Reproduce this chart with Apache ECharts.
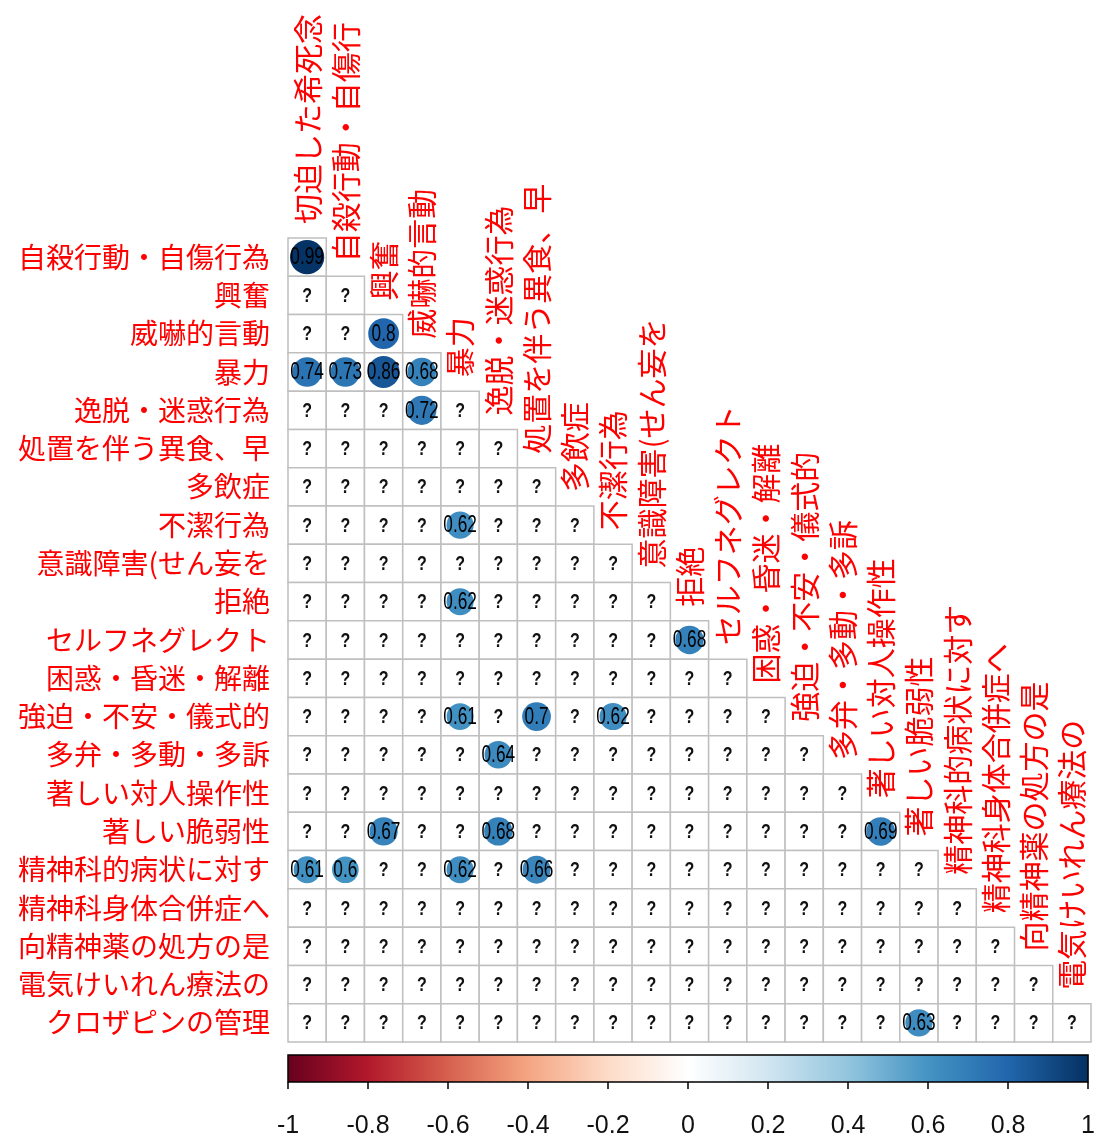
<!DOCTYPE html>
<html>
<head>
<meta charset="utf-8">
<script src="https://cdn.jsdelivr.net/npm/echarts@6/dist/echarts.min.js"></script>
<style>
  html, body { margin: 0; padding: 0; background: #fff; }
  #chart { width: 1098px; height: 1139px; }
</style>
</head>
<body>
<div id="chart"></div>
<script>
// Row variables (lower triangle rows, top to bottom)
const rowLabels = [
  '自殺行動・自傷行為', '興奮', '威嚇的言動', '暴力', '逸脱・迷惑行為',
  '処置を伴う異食、早', '多飲症', '不潔行為', '意識障害(せん妄を', '拒絶',
  'セルフネグレクト', '困惑・昏迷・解離', '強迫・不安・儀式的', '多弁・多動・多訴', '著しい対人操作性',
  '著しい脆弱性', '精神科的病状に対す', '精神科身体合併症へ', '向精神薬の処方の是', '電気けいれん療法の',
  'クロザピンの管理'
];

// Column variables (left to right)
const colLabels = [
  '切迫した希死念', '自殺行動・自傷行', '興奮', '威嚇的言動', '暴力',
  '逸脱・迷惑行為', '処置を伴う異食、早', '多飲症', '不潔行為', '意識障害(せん妄を',
  '拒絶', 'セルフネグレクト', '困惑・昏迷・解離', '強迫・不安・儀式的', '多弁・多動・多訴',
  '著しい対人操作性', '著しい脆弱性', '精神科的病状に対す', '精神科身体合併症へ', '向精神薬の処方の是',
  '電気けいれん療法の'
];

// Correlations that are shown: [row index, column index, r]; every other cell is NA ("?")
const corrCells = [
  [0, 0, 0.99],
  [2, 2, 0.8],
  [3, 0, 0.74], [3, 1, 0.73], [3, 2, 0.86], [3, 3, 0.68],
  [4, 3, 0.72],
  [7, 4, 0.62],
  [9, 4, 0.62],
  [10, 10, 0.68],
  [12, 4, 0.61], [12, 6, 0.7], [12, 8, 0.62],
  [13, 5, 0.64],
  [15, 2, 0.67], [15, 5, 0.68], [15, 15, 0.69],
  [16, 0, 0.61], [16, 1, 0.6], [16, 4, 0.62], [16, 6, 0.66],
  [20, 16, 0.63]
];

// Colour bar ticks
const barTicks = [-1, -0.8, -0.6, -0.4, -0.2, 0, 0.2, 0.4, 0.6, 0.8, 1];

// RdBu diverging palette stops, from -1 to 1
const rdbu = ['#67001F', '#B2182B', '#D6604D', '#F4A582', '#FDDBC7', '#FFFFFF',
              '#D1E5F0', '#92C5DE', '#4393C3', '#2166AC', '#053061'];

function hexToRgb(h) {
  return [parseInt(h.slice(1, 3), 16), parseInt(h.slice(3, 5), 16), parseInt(h.slice(5, 7), 16)];
}
function corrColor(v) {
  const t = (v + 1) / 2 * (rdbu.length - 1);
  const i = Math.min(Math.floor(t), rdbu.length - 2);
  const f = t - i;
  const a = hexToRgb(rdbu[i]), b = hexToRgb(rdbu[i + 1]);
  const c = a.map((x, k) => Math.round(x + (b[k] - x) * f));
  return 'rgb(' + c.join(',') + ')';
}

// Build the lower-triangle cell list (row i holds columns 0..i)
const lookup = {};
corrCells.forEach(([r, c, v]) => { lookup[r + '_' + c] = v; });
const cellData = [];
for (let r = 0; r < rowLabels.length; r++) {
  for (let c = 0; c <= r && c < colLabels.length; c++) {
    const v = lookup[r + '_' + c];
    cellData.push([c, r, v === undefined ? null : v]);
  }
}

const numFont = '"Liberation Sans", Arial, sans-serif';
const cjkFont = '"Noto Sans CJK JP", sans-serif';

const chart = echarts.init(document.getElementById('chart'), null, { renderer: 'canvas' });

chart.setOption({
  animation: false,
  backgroundColor: '#ffffff',
  grid: [
    { left: 288, top: 238, width: 803, height: 804 },
    { left: 288, top: 1055, width: 803, height: 31 }
  ],
  xAxis: [
    {
      gridIndex: 0, type: 'category', data: colLabels, position: 'top',
      axisLine: { show: false }, axisTick: { show: false }, axisLabel: { show: false },
      splitLine: { show: false }
    },
    {
      gridIndex: 1, type: 'value', min: -1, max: 1, interval: 0.2,
      axisLine: { show: false },
      axisTick: { show: true, length: 7, lineStyle: { color: '#000', width: 1.5 } },
      splitLine: { show: false },
      axisLabel: {
        margin: 32, fontSize: 25, color: '#111', fontFamily: numFont,
        formatter: v => String(Math.round(v * 10) / 10)
      }
    }
  ],
  yAxis: [
    {
      gridIndex: 0, type: 'category', data: rowLabels, inverse: true,
      axisLine: { show: false }, axisTick: { show: false }, splitLine: { show: false },
      axisLabel: { margin: 18, fontSize: 28, color: '#FF0000', fontFamily: cjkFont }
    },
    {
      gridIndex: 1, type: 'value', min: 0, max: 1,
      axisLine: { show: false }, axisTick: { show: false }, axisLabel: { show: false },
      splitLine: { show: false }
    }
  ],
  series: [
    {
      // matrix cells with circles, values and NA marks
      type: 'custom', xAxisIndex: 0, yAxisIndex: 0, clip: false,
      data: cellData,
      renderItem: function (params, api) {
        const c = api.coord([api.value(0), api.value(1)]);
        const sz = api.size([1, 1]);
        const w = sz[0], h = sz[1];
        const v = cellData[params.dataIndex][2];
        const children = [{
          type: 'rect',
          shape: { x: c[0] - w / 2, y: c[1] - h / 2, width: w, height: h },
          style: { fill: '#fff', stroke: '#BFBFBF', lineWidth: 1.5 }
        }];
        if (v === null) {
          children.push({
            type: 'text', x: c[0], y: c[1] + 1, scaleX: 0.8,
            style: { text: '?', fill: '#111', font: 'bold 20px ' + numFont, align: 'center', verticalAlign: 'middle' }
          });
        } else {
          const r = 0.45 * Math.sqrt(Math.abs(v)) * Math.min(w, h);
          children.push({
            type: 'circle', shape: { cx: c[0], cy: c[1], r: r },
            style: { fill: corrColor(v) }
          });
          children.push({
            type: 'text', x: c[0], y: c[1] + 1, scaleX: 0.75,
            style: { text: String(v), fill: '#000', font: '23px ' + numFont, align: 'center', verticalAlign: 'middle' }
          });
        }
        return { type: 'group', children: children };
      },
      z: 2
    },
    {
      // column names, placed above the first cell of each column
      type: 'custom', xAxisIndex: 0, yAxisIndex: 0, clip: false,
      data: colLabels.map((name, j) => [j, j]),
      renderItem: function (params, api) {
        const c = api.coord([api.value(0), api.value(1)]);
        const h = api.size([1, 1])[1];
        return {
          type: 'text', x: c[0], y: c[1] - h / 2 - 14, rotation: Math.PI / 2,
          style: {
            text: colLabels[params.dataIndex], fill: '#FF0000',
            font: '30px ' + cjkFont, align: 'left', verticalAlign: 'middle'
          }
        };
      },
      z: 3
    },
    {
      // colour bar
      type: 'custom', xAxisIndex: 1, yAxisIndex: 1, clip: false,
      data: [[barTicks[0], barTicks[barTicks.length - 1]]],
      renderItem: function (params, api) {
        const p0 = api.coord([api.value(0), 1]);
        const p1 = api.coord([api.value(1), 0]);
        return {
          type: 'rect',
          shape: { x: p0[0], y: p0[1], width: p1[0] - p0[0], height: p1[1] - p0[1] },
          style: {
            fill: new echarts.graphic.LinearGradient(0, 0, 1, 0,
              rdbu.map((col, k) => ({ offset: k / (rdbu.length - 1), color: col }))),
            stroke: '#000', lineWidth: 1.5
          }
        };
      }
    }
  ]
});
</script>
</body>
</html>
